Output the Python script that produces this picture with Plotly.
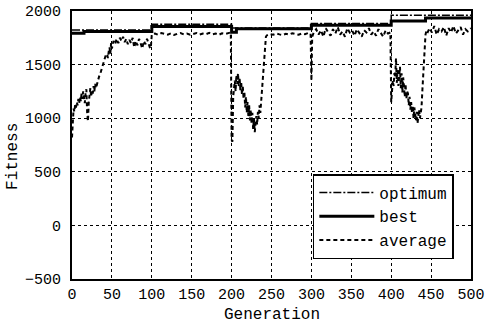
import plotly.graph_objects as go

# ---- data ----
opt_gen = [0, 100, 200, 300, 400, 500]
opt_fit = [1822, 1876, 1842, 1884, 1960, 1960]

best_gen = [0, 15, 100, 200, 206, 300, 400, 443, 500]
best_fit = [1792, 1808, 1856, 1802, 1834, 1866, 1906, 1935, 1935]

avg_gen = [0, 1, 2, 3, 4, 5, 6, 7, 8, 9, 10, 11, 12, 13, 14, 15, 16, 17, 18, 19,
           20, 21, 22, 23, 24, 25, 26, 27, 28, 29, 30, 32, 34, 36, 38, 40, 42, 44,
           45, 46, 47, 48, 49, 50, 52, 54, 56, 58, 60, 62, 64, 66, 68, 70, 72, 74,
           76, 78, 80, 82, 84, 86, 88, 90, 92, 94, 96, 98, 99,
           100, 104, 108, 112, 116, 120, 124, 128, 132, 136, 140, 144, 148, 152,
           156, 160, 164, 168, 172, 176, 180, 184, 188, 192, 196, 199,
           200, 201, 202, 203, 204, 205, 206, 207, 208, 209, 210, 211, 212, 213,
           214, 215, 216, 217, 218, 219, 220, 221, 222, 223, 224, 225, 226, 227,
           228, 229, 230, 231, 232, 233, 234, 235, 236, 237, 238, 239, 240, 241,
           242, 243, 244, 248, 252, 256, 260, 264, 268, 272, 276, 280, 284, 288,
           292, 296, 299,
           300, 301, 303, 306, 309, 312, 315, 318, 321, 324, 327, 330, 333, 336,
           339, 342, 345, 348, 351, 354, 357, 360, 363, 366, 369, 372, 375, 378,
           381, 384, 387, 390, 393, 396, 399,
           400, 401, 402, 403, 404, 405, 406, 407, 408, 409, 410, 411, 412, 413,
           414, 415, 416, 417, 418, 419, 420, 421, 422, 423, 424, 425, 426, 427,
           428, 429, 430, 431, 432, 433, 434, 435, 436, 437, 438, 439, 440, 441,
           442, 443, 444, 445, 448, 451, 454, 457, 460, 463, 466, 469, 472, 475,
           478, 481, 484, 487, 490, 493, 496, 500]
avg_fit = [820, 1020, 1090, 1060, 1130, 1100, 1150, 1120, 1180, 1140, 1200, 1160, 1230, 1180, 1250, 1200, 1140, 1230, 1270, 1050,
           970, 1150, 1230, 1280, 1200, 1260, 1230, 1300, 1250, 1320, 1280, 1340, 1390, 1430, 1480, 1530, 1580, 1600,
           1560, 1620, 1660, 1600, 1700, 1650, 1720, 1690, 1740, 1700, 1750, 1720, 1760, 1710, 1740, 1690, 1730, 1700,
           1750, 1660, 1720, 1680, 1740, 1700, 1650, 1720, 1690, 1740, 1700, 1650, 1680,
           1782, 1790, 1778, 1795, 1785, 1780, 1792, 1776, 1788, 1795, 1782, 1790, 1778, 1786,
           1794, 1780, 1790, 1784, 1796, 1782, 1790, 1778, 1792, 1786, 1795, 1800,
           800, 780, 1200, 1280, 1350, 1250, 1400, 1320, 1420, 1300, 1380, 1260, 1340, 1220,
           1300, 1180, 1250, 1100, 1200, 1050, 1150, 1020, 1120, 980, 1080, 950, 1050, 900,
           1000, 870, 960, 1020, 940, 1060, 1000, 1120, 1050, 1150, 1250, 1380, 1500, 1620,
           1720, 1760, 1772, 1785, 1778, 1790, 1782, 1776, 1788, 1780, 1792, 1785, 1778, 1790,
           1784, 1795, 1790,
           1350, 1760, 1800, 1830, 1780, 1820, 1760, 1840, 1800, 1770, 1830, 1790, 1850, 1780,
           1810, 1760, 1840, 1800, 1820, 1770, 1830, 1790, 1760, 1820, 1800, 1840, 1780, 1810,
           1770, 1830, 1800, 1760, 1820, 1790, 1800,
           1150, 1250, 1350, 1300, 1420, 1380, 1560, 1330, 1450, 1300, 1400, 1480, 1280, 1420,
           1240, 1380, 1300, 1200, 1320, 1180, 1250, 1230, 1120, 1200, 1080, 1150, 1050, 1120,
           1000, 1100, 1040, 980, 1060, 950, 1020, 1080, 1000, 1060, 1100, 1250, 1420, 1580,
           1700, 1780, 1810, 1790, 1840, 1800, 1860, 1780, 1830, 1810, 1850, 1770, 1840, 1800,
           1860, 1790, 1820, 1850, 1780, 1830, 1810, 1840]

mono = "Liberation Mono"

fig = go.Figure()
fig.add_trace(go.Scatter(x=opt_gen, y=opt_fit, mode="lines", name="optimum",
                         line=dict(color="black", width=1.5, shape="hv",
                                   dash="8px,2px,2px,2px")))
fig.add_trace(go.Scatter(x=best_gen, y=best_fit, mode="lines", name="best",
                         line=dict(color="black", width=3, shape="hv")))
fig.add_trace(go.Scatter(x=avg_gen, y=avg_fit, mode="lines", name="average",
                         line=dict(color="black", width=2, dash="4px,3px")))

fig.update_layout(
    width=487, height=326,
    margin=dict(l=72, r=16, t=11, b=47, autoexpand=False),
    plot_bgcolor="white", paper_bgcolor="white",
    font=dict(family=mono, size=15, color="black"),
    showlegend=True,
    legend=dict(x=0.957, y=0.0746, xanchor="right", yanchor="bottom",
                bgcolor="white", bordercolor="black", borderwidth=1.5,
                font=dict(family=mono, size=16, color="black"),
                itemwidth=55, tracegroupgap=0),
    annotations=[
        dict(text="Generation", xref="paper", yref="paper", x=0.5, y=-0.136,
             xanchor="center", yanchor="middle", showarrow=False,
             font=dict(family=mono, size=16, color="black")),
        dict(text="Fitness", xref="paper", yref="paper", x=-0.148, y=0.459,
             xanchor="center", yanchor="middle", showarrow=False, textangle=-90,
             font=dict(family=mono, size=16, color="black")),
    ],
)
fig.update_xaxes(range=[0, 500], dtick=50, tick0=0, showgrid=True,
                 gridcolor="black", griddash="dot", gridwidth=1,
                 showline=True, linecolor="black", linewidth=2, mirror=True,
                 zeroline=False, ticks="", ticklen=0, ticklabelstandoff=0,
                 automargin=False)
fig.update_yaxes(range=[-500, 2000], dtick=500, tick0=0, showgrid=True,
                 gridcolor="black", griddash="dot", gridwidth=1,
                 showline=True, linecolor="black", linewidth=2, mirror=True,
                 zeroline=False, ticks="", ticklen=0, ticklabelstandoff=6,
                 automargin=False)

fig.write_html("out.html")
